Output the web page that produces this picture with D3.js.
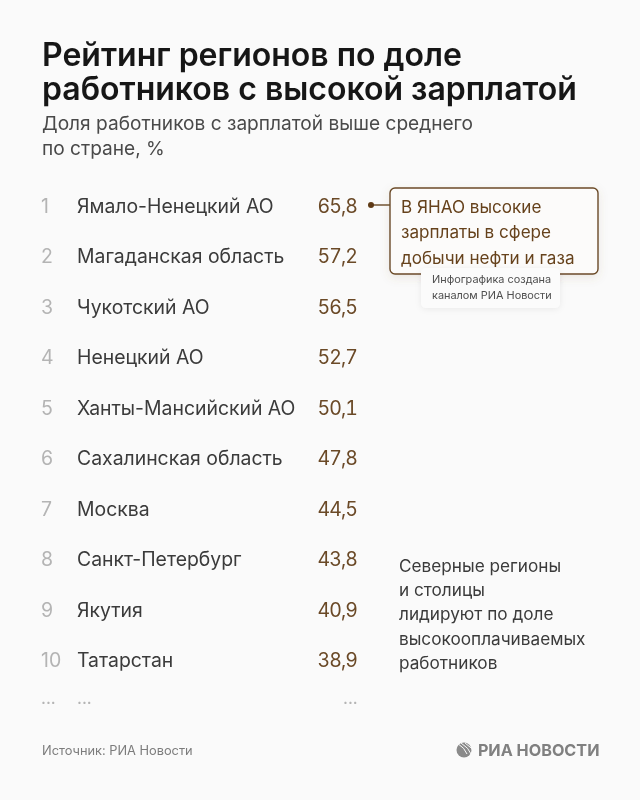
<!DOCTYPE html>
<html><head><meta charset="utf-8">
<script src="https://cdn.jsdelivr.net/npm/d3@7"></script>
<style>html,body{margin:0;padding:0;background:#fafafa}svg{display:block}text{font-family:Inter,"Noto Sans",sans-serif}.num{font-variant-numeric:tabular-nums;letter-spacing:-.9px}</style>
</head><body><svg id="c" width="640" height="800"></svg>
<script>
const ranks=["1","2","3","4","5","6","7","8","9","10"];
const regions=["Ямало-Ненецкий АО","Магаданская область","Чукотский АО","Ненецкий АО","Ханты-Мансийский АО","Сахалинская область","Москва","Санкт-Петербург","Якутия","Татарстан"];
const values=[65.8,57.2,56.5,52.7,50.1,47.8,44.5,43.8,40.9,38.9];
const titleLines=["Рейтинг регионов по доле","работников с высокой зарплатой"];
const subtitleLines=["Доля работников с зарплатой выше среднего","по стране, %"];
const calloutLines=["В ЯНАО высокие","зарплаты в сфере","добычи нефти и газа"];
const creditLines=["Инфографика создана","каналом РИА Новости"];
const noteLines=["Северные регионы","и столицы","лидируют по доле","высокооплачиваемых","работников"];
const source="Источник: РИА Новости";
const logo="РИА НОВОСТИ";

const svg=d3.select("#c");
const defs=svg.append("defs");
const f=defs.append("filter").attr("id","sh").attr("x","-20%").attr("y","-30%").attr("width","140%").attr("height","170%");
f.append("feDropShadow").attr("dx",0).attr("dy",3).attr("stdDeviation",5).attr("flood-color","#8a6a4a").attr("flood-opacity",.13);
const f2=defs.append("filter").attr("id","sh2").attr("x","-20%").attr("y","-30%").attr("width","140%").attr("height","170%");
f2.append("feDropShadow").attr("dx",0).attr("dy",1).attr("stdDeviation",3).attr("flood-color","#000").attr("flood-opacity",.07);
const blur=defs.append("filter").attr("id","soft");
blur.append("feGaussianBlur").attr("stdDeviation",.28);
const root=svg.append("g").attr("filter","url(#soft)");

const lines=(arr,x,y0,dy,size,fill,weight)=>root.append("g").selectAll("text").data(arr).join("text")
  .attr("x",x).attr("y",(d,i)=>y0+i*dy).attr("font-size",size).attr("fill",fill).attr("font-weight",weight||400).text(d=>d);

lines(titleLines,42,66,34,32,"#161616",600);
lines(subtitleLines,42,129.5,25,19.1,"#4a4a4a",400);

const y=d3.scalePoint().domain(ranks).range([206,660]);
const row=root.append("g").selectAll("g").data(ranks).join("g").attr("transform",d=>`translate(0,${y(d)})`);
row.append("text").attr("x",41).attr("y",7).attr("font-size",19.5).attr("fill","#b4b4b4").text(d=>d);
row.append("text").attr("x",77).attr("y",7).attr("font-size",19.4).attr("fill","#3a3a3a").text((d,i)=>regions[i]);
row.append("text").attr("class","num").attr("x",357).attr("y",7).attr("text-anchor","end").attr("font-size",19.5).attr("fill","#6b4a28")
  .text((d,i)=>d3.format(".1f")(values[i]).replace(".",","));

root.append("g").selectAll("text").data([41,77,343]).join("text").attr("x",d=>d).attr("y",704)
  .attr("font-size",17).attr("fill","#b4b4b4").text("...");

root.append("circle").attr("cx",371).attr("cy",205).attr("r",3).attr("fill","#5e3a14");
root.append("line").attr("x1",371).attr("x2",390).attr("y1",205).attr("y2",205).attr("stroke","#5e3a14").attr("stroke-width",1.3);
root.append("rect").attr("x",390).attr("y",188).attr("width",208).attr("height",86).attr("rx",5)
  .attr("fill","#fcfbfa").attr("stroke","#6b4a28").attr("stroke-width",1.4).attr("filter","url(#sh)");
lines(calloutLines,401,212.5,25.7,17.1,"#66421c",400);
root.append("rect").attr("x",421).attr("y",268).attr("width",139).attr("height",40).attr("rx",5)
  .attr("fill","#fbfbfb").attr("filter","url(#sh2)");
lines(creditLines,432,283,16,10.9,"#4f4f4f",400);

lines(noteLines,399,572,24.2,17.2,"#3a3a3a",400);

lines([source],42,755,0,12.8,"#7c7c7c",400);
const g=root.append("g").attr("transform","translate(464,750)");
g.append("circle").attr("r",7.5).attr("fill","#8a8a8a");
g.selectAll("path").data([-4,0,4]).join("path").attr("d",d=>`M${d-3},-7 Q${d+5},-2 ${d+7},4`)
  .attr("fill","none").attr("stroke","#fafafa").attr("stroke-width",1);
root.append("text").attr("x",599.5).attr("y",756).attr("text-anchor","end").attr("font-size",16.2).attr("font-weight",700).attr("fill","#808080").text(logo);
</script></body></html>
